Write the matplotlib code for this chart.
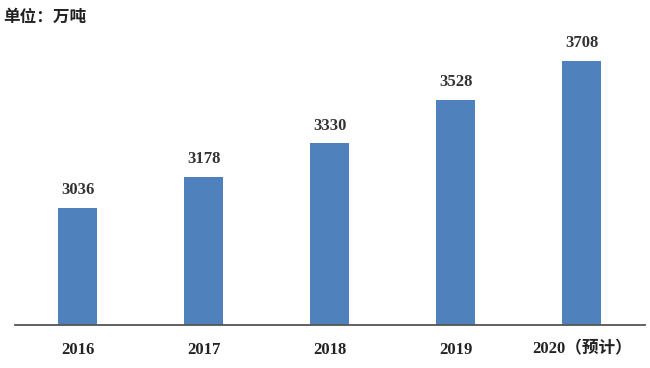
import matplotlib
matplotlib.use("Agg")
import matplotlib.pyplot as plt

categories = ["2016", "2017", "2018", "2019", "2020（预计）"]
values = [3036, 3178, 3330, 3528, 3708]
unit_label = "单位：万吨"

fam = ["Liberation Serif", "Noto Sans CJK SC", "DejaVu Serif"]
plt.rcParams['font.family'] = fam

fig = plt.figure(figsize=(6.5, 3.68), dpi=100)
ax = fig.add_axes([0.023, 0.117, 0.969, 0.829])

x = list(range(len(categories)))
bars = ax.bar(x, values, width=0.31, color="#4F81BD", zorder=2)
ax.set_ylim(2500, 3894)
ax.set_xlim(-0.5, 4.5)

for xi, v in zip(x, values):
    ax.annotate(str(v), (xi, v), xytext=(0, 7), textcoords="offset points",
                ha="center", va="bottom", fontsize=12, fontweight="bold",
                color="#333333", family=fam)

ax.set_xticks(x)
ax.set_xticklabels(categories, fontsize=12, fontweight="bold", color="#222222")
ax.tick_params(axis="x", direction="in", length=4, width=1.2, color="#222222", pad=12)
ax.set_yticks([])
for s in ["left", "right", "top"]:
    ax.spines[s].set_visible(False)
ax.spines["bottom"].set_color("#555555")
ax.spines["bottom"].set_linewidth(1.3)
ax.spines["bottom"].set_zorder(3)

fig.text(0.005, 0.953, unit_label, fontsize=12, fontweight="bold",
         color="#222222", ha="left", va="center", family=["Noto Sans CJK SC", "DejaVu Sans"])

fig.savefig("out.png", dpi=100)
